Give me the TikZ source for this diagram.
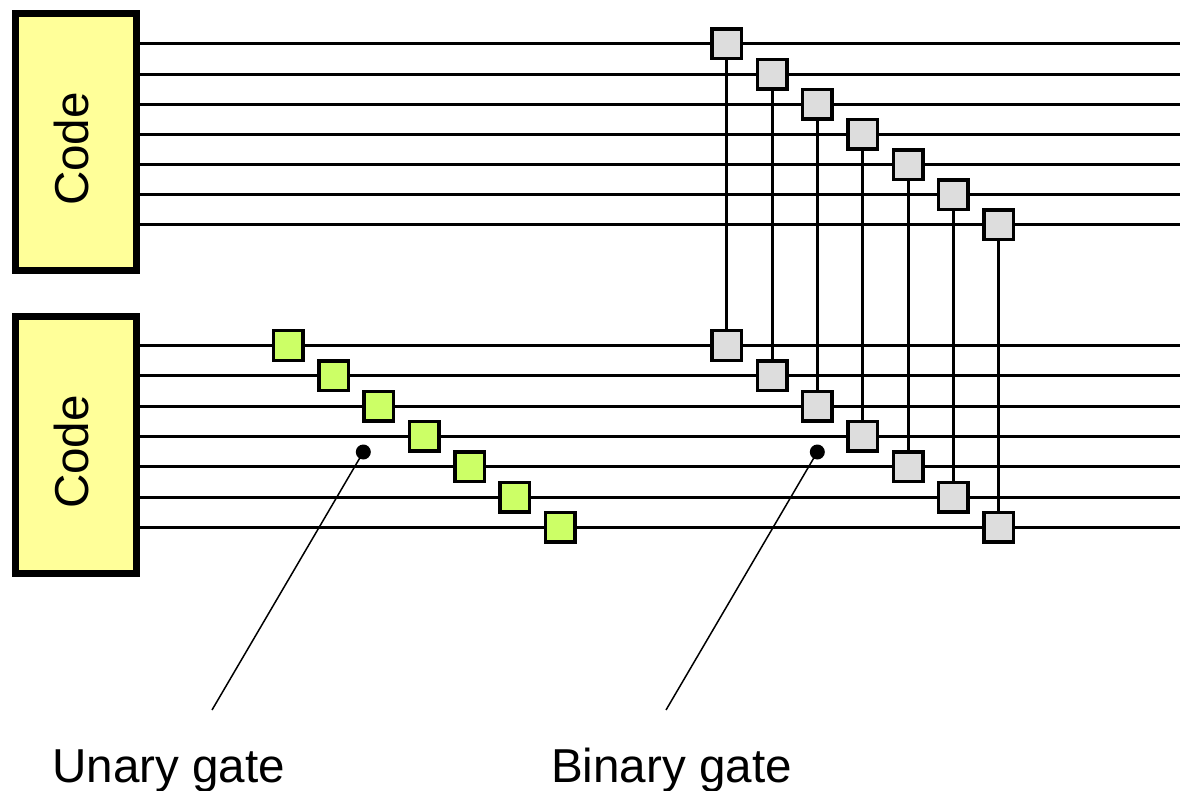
\documentclass[tikz,border=0pt]{standalone}
\usepackage{fontspec}
\setmainfont{Liberation Sans}
\usetikzlibrary{calc}
\definecolor{codeyellow}{HTML}{FFFF99}
\definecolor{unarygreen}{HTML}{CCFF66}
\definecolor{binarygray}{HTML}{DDDDDD}
\begin{document}
\begin{tikzpicture}[x=1pt,y=-1pt,
  codebox/.style={draw,line width=7pt,fill=codeyellow,minimum width=121pt,
    minimum height=257pt,inner sep=0pt},
  codetext/.style={rotate=90,font=\fontsize{47.6}{52}\selectfont,inner sep=0pt},
  wire/.style={line width=3pt},
  gate/.style={draw,line width=3.5pt,minimum size=29.5pt,inner sep=0pt},
  ugate/.style={gate,fill=unarygreen},
  bgate/.style={gate,fill=binarygray},
  link/.style={line width=3pt},
  leader/.style={line width=1.5pt},
  dotmark/.style={circle,fill=black,minimum size=15pt,inner sep=0pt},
  caption/.style={font=\fontsize{47.6}{52}\selectfont,inner sep=0pt,anchor=base west}]
\useasboundingbox (0,0) rectangle (1180,791);

% the two code registers
\node[codebox] (codeA) at (76,142) {};
\node[codebox] (codeB) at (76,445) {};
\node[codetext] (codeAtext) at (71,149) {Code};
\node[codetext] (codeBtext) at (71,452) {Code};

% wires leaving each register
\foreach \i in {0,...,6} {
  \coordinate (wA\i) at ($(codeA.east |- 0,{44+30.15*\i})$);
  \coordinate (eA\i) at (1180,{44+30.15*\i});
  \draw[wire] (wA\i) -- (eA\i);
  \coordinate (wB\i) at ($(codeB.east |- 0,{345.5+30.3*\i})$);
  \coordinate (eB\i) at (1180,{345.5+30.3*\i});
  \draw[wire] (wB\i) -- (eB\i);
}

% unary gates on the lower register
\foreach \i in {1,...,7} {
  \node[ugate] (u\i) at ({288.3+45.33*(\i-1)},{345.5+30.3*(\i-1)}) {};
}

% binary gates joining the two registers
\foreach \i in {1,...,7} {
  \node[bgate] (tA\i) at ({726.7+45.33*(\i-1)},{44+30.15*(\i-1)}) {};
  \node[bgate] (tB\i) at ({726.7+45.33*(\i-1)},{345.5+30.3*(\i-1)}) {};
  \draw[link] (tA\i.south) -- (tB\i.north);
}

% callouts
\node[dotmark] (udot) at (363.3,452) {};
\node[dotmark] (bdot) at (817.3,452) {};
\coordinate (uend) at (212,710);
\coordinate (bend) at (666,710);
\draw[leader] (udot.center) -- (uend);
\draw[leader] (bdot.center) -- (bend);
\node[caption] (ulabel) at (52,782) {Unary gate};
\node[caption] (blabel) at (551,782) {Binary gate};
\end{tikzpicture}
\end{document}
